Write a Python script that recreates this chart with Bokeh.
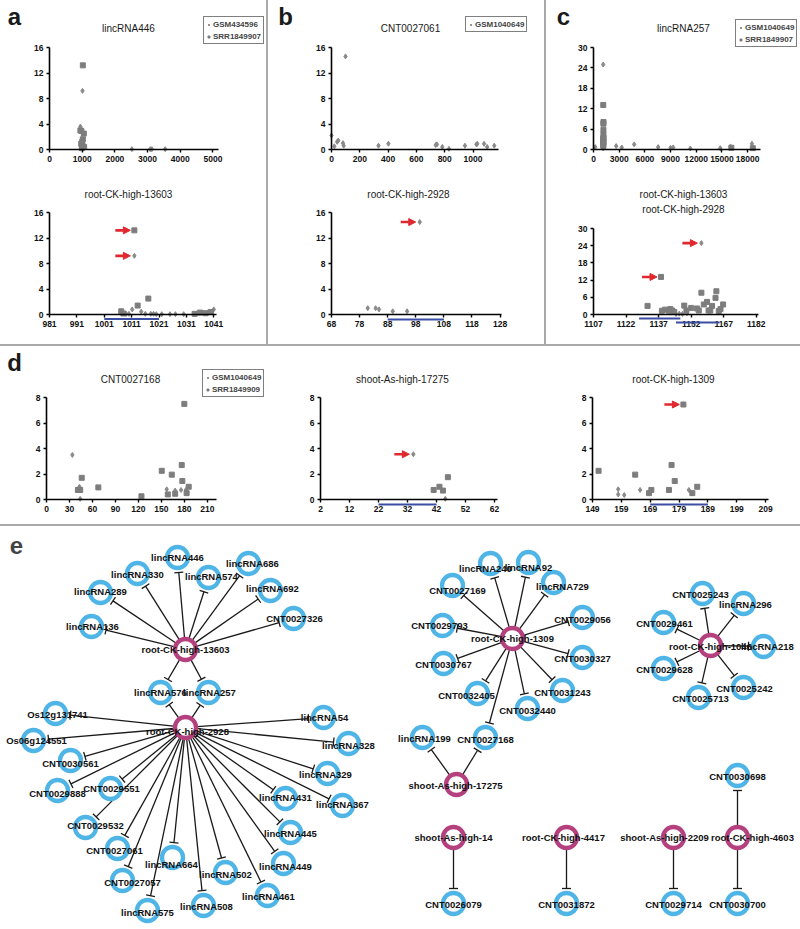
import math
from bokeh.plotting import figure
from bokeh.models import (Range1d, FixedTicker, Label, Legend, LegendItem, Arrow,
                          NormalHead, TeeHead, ColumnDataSource, Div)
from bokeh.layouts import row, column
from bokeh.core.properties import value
from bokeh.embed import file_html
from bokeh.resources import INLINE

FONT = "Liberation Sans"
GRAY_D = "#8a8a8a"
GRAY_S = "#7d7d7d"
RED = "#e0282e"
BLUE = "#3b4ea3"
SEP = "#a9a9a9"

# ---------------- data: panel a ----------------
a_top_gsm_x = [945, 1010, 1030, 1000, 1040, 2520, 3080, 3130, 3540]
a_top_gsm_y = [3.6, 9.2, 0.3, 0.6, 0.2, 0.05, 0.05, 0.05, 0.05]
a_top_srr_x = [1020, 945, 975, 1050, 1020, 1000, 970, 1010, 1060, 990]
a_top_srr_y = [13.2, 3.0, 2.9, 2.5, 1.6, 1.2, 0.9, 0.6, 0.4, 0.2]

a_bot_gsm_x = [1012, 1011.2, 1014.5, 1009, 1010, 1016, 1018, 1019, 1020, 1022, 1025, 1027,
               1030, 1035, 1037, 1039, 1041]
a_bot_gsm_y = [9.2, 0.8, 0.45, 0.1, 0.1, 0.1, 0.1, 0.1, 0.05, 0.05, 0.05, 0.05,
               0.05, 0.2, 0.3, 0.4, 0.8]
a_bot_srr_x = [1012, 1007.2, 1013.2, 1017.1, 1008, 1034, 1036, 1038, 1040]
a_bot_srr_y = [13.2, 0.5, 1.4, 2.5, 0.15, 0.1, 0.3, 0.2, 0.4]
a_hi_x = [1012, 1012]
a_hi_y = [13.2, 9.2]
a_site = [(1001, 1021)]

# ---------------- data: panel b ----------------
b_top_x = [0, 20, 40, 48, 81, 86, 99, 332, 402, 736, 745, 783, 830, 943, 1024, 1030, 1078, 1100, 1150]
b_top_y = [2.2, 0.5, 1.2, 1.4, 1.0, 0.6, 14.6, 0.6, 0.9, 0.7, 0.8, 0.4, 0.1, 0.6, 0.8, 0.9, 0.9, 0.4, 0.6]
b_bot_x = [99.4, 80.9, 83.7, 84.9, 89.8, 94.9]
b_bot_y = [14.5, 1.0, 1.0, 0.8, 0.5, 0.5]
b_hi_x = [99.4]
b_hi_y = [14.5]
b_site = [(88, 108)]

# ---------------- data: panel c ----------------
c_top_gsm_x = [1130, 200, 2650, 3300, 4750, 7550, 9000, 9300, 11300, 14800, 16000, 18500, 1100, 1150]
c_top_gsm_y = [25, 0.7, 1.0, 0.6, 1.5, 0.7, 0.5, 0.6, 0.3, 0.4, 0.9, 1.7, 0.5, 0.3]
c_top_srr_x = [1140, 1132, 1150, 1160, 1163, 1157, 1159, 1149, 1152, 1138, 1166, 1142, 1145, 16100, 18600]
c_top_srr_y = [13.1, 3.0, 3.1, 5.8, 8.1, 7.6, 4.4, 2.3, 2.1, 1.3, 3.5, 1.9, 1.0, 0.5, 0.4]

c_bot_gsm_x = [1156.7, 1145, 1146.5, 1148, 1150]
c_bot_gsm_y = [24.9, 0.2, 0.3, 0.2, 0.4]
c_bot_srr_x = [1138.1, 1131.9, 1138.5, 1140, 1141.6, 1142.4, 1143.2, 1144.2, 1148.8, 1149.8,
               1152, 1154.7, 1155.5, 1156.7, 1157.8, 1159.3, 1160, 1161.6, 1160.8, 1163.2,
               1163.6, 1164.7, 1165.5, 1166.7]
c_bot_srr_y = [13.1, 3.0, 1.3, 1.7, 1.3, 1.9, 1.4, 0.9, 3.1, 1.4,
               2.3, 2.1, 1.4, 7.6, 3.5, 4.4, 1.4, 3.0, 1.4, 5.8,
               8.1, 1.2, 1.9, 3.5]
c_hi_x = [1156.7, 1138.1]
c_hi_y = [24.9, 13.1]
c_site = [(1128, 1147), (1145, 1165)]

# ---------------- data: panel d ----------------
d1_gsm_x = [33.8, 43, 157, 168, 175.7, 182, 44]
d1_gsm_y = [3.5, 1.0, 0.8, 0.7, 0.75, 0.75, 0.05]
d1_srr_x = [41, 44, 46, 67.7, 124, 150.5, 158.4, 163.6, 168, 176.6, 177.4, 180, 183, 185.7]
d1_srr_y = [0.75, 0.75, 1.7, 0.95, 0.25, 2.25, 0.4, 1.95, 0.45, 2.7, 1.45, 7.5, 0.5, 1.0]

d2_gsm_x = [34, 45]
d2_gsm_y = [3.55, 0.05]
d2_srr_x = [41, 43, 44.2, 45.9]
d2_srr_y = [0.75, 1.0, 0.7, 1.75]
d2_hi_x = [34]
d2_hi_y = [3.55]
d2_site = [(22, 42)]

d3_gsm_x = [157.9, 157.9, 160, 165.5, 182.4]
d3_gsm_y = [0.8, 0.4, 0.35, 0.75, 0.75]
d3_srr_x = [180.5, 151.1, 163.8, 168.6, 169.4, 175.5, 176.4, 177.5, 183.6, 185.3]
d3_srr_y = [7.45, 2.25, 1.95, 0.5, 0.75, 0.75, 2.7, 1.45, 0.5, 1.0]
d3_hi_x = [180.5]
d3_hi_y = [7.45]
d3_site = [(169, 189)]

# ---------------- data: panel e (network) ----------------
node_name = [
    "root-CK-high-13603", "lincRNA446", "lincRNA330", "lincRNA574", "lincRNA686", "lincRNA692",
    "lincRNA289", "lincRNA136", "CNT0027326", "lincRNA576", "lincRNA257",
    "root-CK-high-2928", "Os12g131741", "Os06g124551", "CNT0030561", "CNT0029888", "CNT0029551",
    "CNT0029532", "CNT0027061", "lincRNA664", "CNT0027057", "lincRNA575", "lincRNA508",
    "lincRNA502", "lincRNA461", "lincRNA449", "lincRNA445", "lincRNA431", "lincRNA367",
    "lincRNA329", "lincRNA328", "lincRNA54",
    "root-CK-high-1309", "lincRNA240", "lincRNA92", "lincRNA729", "CNT0027169", "CNT0029056",
    "CNT0029793", "CNT0030327", "CNT0030767", "CNT0032405", "CNT0031243", "CNT0032440",
    "CNT0027168", "lincRNA199", "shoot-As-high-17275",
    "root-CK-high-1046", "CNT0025243", "lincRNA296", "CNT0029461", "lincRNA218", "CNT0029628",
    "CNT0025713", "CNT0025242",
    "shoot-As-high-14", "CNT0026079", "root-CK-high-4417", "CNT0031872",
    "shoot-As-high-2209", "CNT0029714", "root-CK-high-4603", "CNT0030698", "CNT0030700",
]
node_x = [185, 177, 137, 208, 248, 270, 100, 91, 293, 160, 208,
          185, 55, 33, 70, 57, 110, 85, 117, 172, 122, 147, 203, 225, 267, 283, 290, 285, 342,
          327, 348, 323,
          512, 490, 528, 553, 452, 582, 442, 582, 443, 477, 562, 527, 485, 422, 456,
          710, 702, 743, 663, 763, 663, 698, 743,
          453, 453, 566, 566, 673, 673, 737, 737, 737]
node_y = [649, 557, 573, 577, 563, 590, 592, 626, 618, 692, 692,
          727, 713, 740, 760, 790, 788, 827, 848, 857, 880, 910, 905, 872, 895, 863, 832, 798, 805,
          773, 743, 717,
          638, 563, 562, 582, 585, 617, 625, 657, 663, 693, 690, 708, 737, 737, 784,
          645, 593, 603, 622, 646, 668, 697, 687,
          837, 903, 837, 903, 837, 903, 837, 775, 903]
node_mirna = {"root-CK-high-13603", "root-CK-high-2928", "root-CK-high-1309", "shoot-As-high-17275",
              "root-CK-high-1046", "shoot-As-high-14", "root-CK-high-4417", "shoot-As-high-2209",
              "root-CK-high-4603"}
label_x = [185, 177, 137, 211, 252, 272, 100, 92, 294, 160, 209,
           187, 57, 36, 70, 57, 111, 95, 114, 171, 132, 147, 206, 225, 268, 285, 290, 285, 342,
           325, 348, 324,
           512, 485, 528, 562, 457, 582, 439, 582, 443, 466, 562, 527, 485, 424, 455,
           710, 700, 745, 664, 767, 664, 700, 744,
           453, 453, 563, 566, 664, 673, 752, 737, 737]
label_y = [649, 557, 574, 576, 563, 588, 591, 626, 618, 692, 692,
           731, 714, 740, 763, 793, 788, 825, 850, 864, 882, 912, 906, 874, 896, 866, 833, 797, 804,
           774, 745, 717,
           638, 568, 567, 586, 590, 619, 625, 658, 664, 695, 692, 710, 739, 738, 785,
           646, 594, 604, 623, 646, 669, 698, 688,
           837, 904, 837, 904, 837, 904, 837, 776, 904]

edge_src = (["root-CK-high-13603"] * 10 + ["root-CK-high-2928"] * 22 + ["root-CK-high-1309"] * 12
            + ["shoot-As-high-17275"] * 2 + ["root-CK-high-1046"] * 7
            + ["shoot-As-high-14", "root-CK-high-4417", "shoot-As-high-2209",
               "root-CK-high-4603", "root-CK-high-4603"])
edge_tgt = (["lincRNA446", "lincRNA330", "lincRNA574", "lincRNA686", "lincRNA692", "lincRNA289",
             "lincRNA136", "CNT0027326", "lincRNA576", "lincRNA257"]
            + ["lincRNA576", "lincRNA257", "Os12g131741", "Os06g124551", "CNT0030561", "CNT0029888",
               "CNT0029551", "CNT0029532", "CNT0027061", "lincRNA664", "CNT0027057", "lincRNA575",
               "lincRNA508", "lincRNA502", "lincRNA461", "lincRNA449", "lincRNA445", "lincRNA431",
               "lincRNA367", "lincRNA329", "lincRNA328", "lincRNA54"]
            + ["lincRNA240", "lincRNA92", "lincRNA729", "CNT0027169", "CNT0029056", "CNT0029793",
               "CNT0030327", "CNT0030767", "CNT0032405", "CNT0031243", "CNT0032440", "CNT0027168"]
            + ["lincRNA199", "CNT0027168"]
            + ["CNT0025243", "lincRNA296", "CNT0029461", "lincRNA218", "CNT0029628", "CNT0025713",
               "CNT0025242"]
            + ["CNT0026079", "CNT0031872", "CNT0029714", "CNT0030698", "CNT0030700"])


# ---------------- helpers ----------------
def panel(W, H, L, R, T, B, xr, yr, xticks, yticks):
    """Frame covers the whole canvas; axes drawn at fixed data locations with bounds."""
    fw = W - L - R
    fh = H - T - B
    ux = (xr[1] - xr[0]) / fw
    uy = (yr[1] - yr[0]) / fh
    p = figure(width=W, height=H,
               x_range=Range1d(xr[0] - L * ux, xr[1] + R * ux),
               y_range=Range1d(yr[0] - B * uy, yr[1] + T * uy),
               min_border=0, output_backend="svg", toolbar_location=None)
    p.outline_line_color = None
    p.xgrid.visible = False
    p.ygrid.visible = False
    p.xaxis.ticker = FixedTicker(ticks=xticks)
    p.yaxis.ticker = FixedTicker(ticks=yticks)
    p.xaxis.fixed_location = yr[0]
    p.xaxis.bounds = (xr[0], xr[1])
    p.yaxis.fixed_location = xr[0]
    p.yaxis.bounds = (yr[0], yr[1])
    for ax in (p.xaxis[0], p.yaxis[0]):
        ax.axis_line_width = 1.6
        ax.axis_line_color = "black"
        ax.major_tick_out = 3
        ax.major_tick_in = 0
        ax.major_tick_line_width = 1.4
        ax.minor_tick_out = 0
        ax.minor_tick_in = 0
        ax.major_label_text_font = FONT
        ax.major_label_text_font_size = "8.5px"
        ax.major_label_text_font_style = "bold"
        ax.major_label_text_color = "#111111"
        ax.major_label_standoff = 3
    g = dict(W=W, H=H, fw=fw, fh=fh, ux=ux, uy=uy)
    return p, g


def text_at(p, g, cx, cy, text, size, bold=False):
    p.add_layout(Label(x=cx, y=g["H"] - cy, x_units="screen", y_units="screen",
                       text=text, text_align="center", text_baseline="middle",
                       text_font=FONT, text_font_size=size,
                       text_font_style="bold" if bold else "normal", text_color="#1a1a1a"))


def pts(p, gx, gy, sx=None, sy=None):
    r1 = p.scatter(gx, gy, marker="diamond", size=5, color=GRAY_D)
    r2 = None
    if sx is not None:
        r2 = p.scatter(sx, sy, marker="square", size=5, color=GRAY_S)
    return r1, r2


def legend(p, g, left, bottom, items):
    leg = Legend(items=[LegendItem(label=t, renderers=[r]) for t, r in items],
                 location=(left, g["H"] - bottom),
                 label_text_font=FONT, label_text_font_size="8px", label_text_font_style="bold",
                 glyph_width=5, glyph_height=9, label_height=10, label_standoff=2,
                 padding=2, spacing=2, margin=0, border_line_color="black",
                 border_line_width=1, background_fill_color="white", background_fill_alpha=1)
    p.add_layout(leg, "center")


def red_arrows(p, g, hx, hy):
    for x, y in zip(hx, hy):
        p.add_layout(Arrow(x_start=x - 19 * g["ux"], x_end=x - 4 * g["ux"], y_start=y, y_end=y,
                           line_color=RED, line_width=2.6,
                           end=NormalHead(size=7, fill_color=RED, line_color=RED)))


def sites(p, g, spans, offs):
    for (a, b), o in zip(spans, offs):
        p.add_layout(Arrow(x_start=a, x_end=b, y_start=-o * g["uy"], y_end=-o * g["uy"],
                           start=None, end=None, line_color=BLUE, line_width=2))


# ---------------- row 1 ----------------
Y16 = [0, 4, 8, 12, 16]
a_top, ga = panel(266, 168, 49, 48, 47, 19, (0, 5170), (0, 16), [0, 1000, 2000, 3000, 4000, 5000], Y16)
r1, r2 = pts(a_top, a_top_gsm_x, a_top_gsm_y, a_top_srr_x, a_top_srr_y)
text_at(a_top, ga, 14, 16, "a", "24px", True)
text_at(a_top, ga, 128, 28, "lincRNA446", "10px")
legend(a_top, ga, 203, 44, [("GSM434596", r1), ("SRR1849907", r2)])

a_bot, gab = panel(266, 176, 49, 50, 44, 30, (981, 1042), (0, 16), list(range(981, 1042, 10)), Y16)
pts(a_bot, a_bot_gsm_x, a_bot_gsm_y, a_bot_srr_x, a_bot_srr_y)
text_at(a_bot, gab, 128, 26, "root-CK-high-13603", "10px")
red_arrows(a_bot, gab, a_hi_x, a_hi_y)
sites(a_bot, gab, a_site, [4.5])

b_top, gb = panel(276, 168, 63, 46, 47, 19, (0, 1180), (0, 16), [0, 200, 400, 600, 800, 1000], Y16)
rb, _ = pts(b_top, b_top_x, b_top_y)
text_at(b_top, gb, 17, 16, "b", "24px", True)
text_at(b_top, gb, 142, 28, "CNT0027061", "10px")
legend(b_top, gb, 197, 32, [("GSM1040649", rb)])

b_bot, gbb = panel(276, 176, 63, 43, 44, 30, (68, 128.5), (0, 16), list(range(68, 129, 10)), Y16)
pts(b_bot, b_bot_x, b_bot_y)
text_at(b_bot, gbb, 140, 26, "root-CK-high-2928", "10px")
red_arrows(b_bot, gbb, b_hi_x, b_hi_y)
sites(b_bot, gbb, b_site, [5])

Y30 = [0, 6, 12, 18, 24, 30]
c_top, gc = panel(254, 168, 47, 40, 47, 19, (0, 19500), (0, 30), list(range(0, 18001, 3000)), Y30)
rc1, rc2 = pts(c_top, c_top_gsm_x, c_top_gsm_y, c_top_srr_x, c_top_srr_y)
text_at(c_top, gc, 17, 16, "c", "24px", True)
text_at(c_top, gc, 137, 28, "lincRNA257", "10px")
legend(c_top, gc, 189, 47, [("GSM1040649", rc1), ("SRR1849907", rc2)])

c_bot, gcb = panel(254, 176, 47, 42, 60, 30, (1107, 1183), (0, 30), list(range(1107, 1183, 15)), Y30)
pts(c_bot, c_bot_gsm_x, c_bot_gsm_y, c_bot_srr_x, c_bot_srr_y)
text_at(c_bot, gcb, 137, 26, "root-CK-high-13603", "10px")
text_at(c_bot, gcb, 137, 41, "root-CK-high-2928", "10px")
red_arrows(c_bot, gcb, c_hi_x, c_hi_y)
sites(c_bot, gcb, c_site, [4, 8])

# ---------------- row 2 ----------------
Y8 = [0, 2, 4, 6, 8]
d1, gd1 = panel(264, 178, 46, 48, 51, 25, (0, 222), (0, 8), list(range(0, 211, 30)), Y8)
rd1, rd2 = pts(d1, d1_gsm_x, d1_gsm_y, d1_srr_x, d1_srr_y)
text_at(d1, gd1, 14, 16, "d", "24px", True)
text_at(d1, gd1, 130, 33, "CNT0027168", "10px")
legend(d1, gd1, 202, 51, [("GSM1040649", rd1), ("SRR1849909", rd2)])

d2, gd2 = panel(266, 178, 56, 33, 51, 25, (2, 63), (0, 8), list(range(2, 63, 10)), Y8)
pts(d2, d2_gsm_x, d2_gsm_y, d2_srr_x, d2_srr_y)
text_at(d2, gd2, 138, 33, "shoot-As-high-17275", "10px")
red_arrows(d2, gd2, d2_hi_x, d2_hi_y)
sites(d2, gd2, d2_site, [5])

d3, gd3 = panel(270, 178, 62, 32, 51, 25, (149, 210), (0, 8), list(range(149, 210, 10)), Y8)
pts(d3, d3_gsm_x, d3_gsm_y, d3_srr_x, d3_srr_y)
text_at(d3, gd3, 143, 33, "root-CK-high-1309", "10px")
red_arrows(d3, gd3, d3_hi_x, d3_hi_y)
sites(d3, gd3, d3_site, [5])

# ---------------- network ----------------
net = figure(width=800, height=403, x_range=Range1d(0, 800), y_range=Range1d(929, 526),
             min_border=0, output_backend="svg", toolbar_location=None)
net.axis.visible = False
net.grid.visible = False
net.outline_line_color = None

pos = {n: (x, y) for n, x, y in zip(node_name, node_x, node_y)}
x0, y0, x1, y1 = [], [], [], []
for s, t in zip(edge_src, edge_tgt):
    sx, sy = pos[s]
    tx, ty = pos[t]
    d = math.hypot(tx - sx, ty - sy)
    ux, uy = (tx - sx) / d, (ty - sy) / d
    x0.append(sx + ux * 12); y0.append(sy + uy * 12)
    x1.append(tx - ux * 15); y1.append(ty - uy * 15)
esrc = ColumnDataSource(dict(x0=x0, y0=y0, x1=x1, y1=y1))
net.add_layout(Arrow(source=esrc, x_start="x0", y_start="y0", x_end="x1", y_end="y1",
                     line_color="#1a1a1a", line_width=1.3, level="underlay",
                     end=TeeHead(size=9, line_width=1.3, line_color="#1a1a1a")))

colors = ["#b4407e" if n in node_mirna else "#4fb4e6" for n in node_name]
nsrc = ColumnDataSource(dict(x=node_x, y=node_y, c=colors, lx=label_x, ly=label_y, name=node_name))
net.scatter("x", "y", source=nsrc, marker="circle", size=21, fill_color=None,
            line_color="c", line_width=4.3)
net.text("lx", "ly", text="name", source=nsrc, text_font=value(FONT), text_font_size="9.5px",
         text_font_style="bold", text_align="center", text_baseline="middle", text_color="#111111")
net.add_layout(Label(x=16, y=545, text="e", text_font=FONT, text_font_size="24px",
                     text_font_style="bold", text_align="center", text_baseline="middle"))


# ---------------- layout ----------------
def vsep(h):
    return Div(text="", width=2, height=h, margin=0,
               styles={"background-color": SEP, "overflow": "hidden"})


def hsep(w):
    return Div(text="", width=w, height=2, margin=0,
               styles={"background-color": SEP, "overflow": "hidden"})


row1 = row(column(a_top, a_bot), vsep(344), column(b_top, b_bot), vsep(344), column(c_top, c_bot))
row2 = row(d1, d2, d3)
page = column(row1, hsep(800), row2, hsep(800), net)

open("out.html", "w").write(file_html(page, INLINE))
